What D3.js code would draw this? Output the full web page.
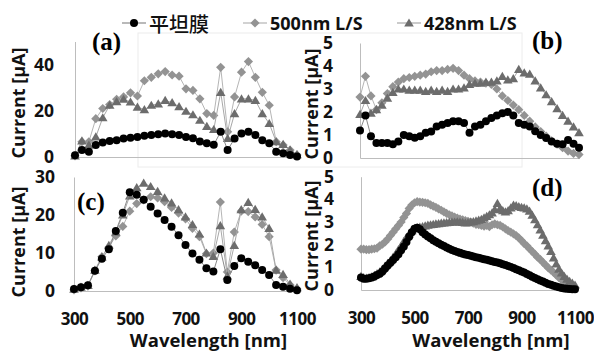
<!DOCTYPE html>
<html>
<head>
<meta charset="utf-8">
<script src="https://cdn.jsdelivr.net/npm/d3@7"></script>
<style>
  body { margin: 0; background: #fff; }
</style>
</head>
<body>
<div id="chart"></div>
<script>
// wavelength grids [nm]
const wl25 = [300,325,350,375,400,425,450,475,500,525,550,575,600,625,650,675,700,725,750,775,800,
              825,850,875,900,925,950,975,1000,1025,1050,1075,1100];
const wl20 = [300,320,340,360,380,400,420,440,460,480,500,520,540,560,580,600,620,640,660,680,700,
              720,740,760,780,800,820,840,860,880,900,920,940,960,980,1000,1020,1040,1060,1080,1100];
const wl10 = [300,310,320,330,340,350,360,370,380,390,400,410,420,430,440,450,460,470,480,490,
              500,510,520,530,540,550,560,570,580,590,600,610,620,630,640,650,660,670,680,690,
              700,710,720,730,740,750,760,770,780,790,800,810,820,830,840,850,860,870,880,890,
              900,910,920,930,940,950,960,970,980,990,1000,1010,1020,1030,1040,1050,1060,1070,1080,1090,1100];

const seriesNames = ["平坦膜", "500nm L/S", "428nm L/S"];
const xTicks = [300, 500, 700, 900, 1100];

// (a) current [uA]
const aFlat  = [0.8,3,2.3,5.2,6.3,6.9,7.3,8,8.3,8.7,9.2,9.5,9.8,10.2,9.8,9.5,8.7,8.1,6.7,6,
                5.3,10.9,3,8,10.2,10.9,9.5,7.3,5.9,2.3,1.6,0.9,0.2];
const a500   = [0.5,6.6,6.6,16.6,21,22.7,25,26,27.8,26.4,33,34.5,36,37,35.5,35,29.5,28.8,25.2,18.8,
                18,38.8,10.9,26,36.7,41.3,34.5,28,22.4,6.6,5.2,3,0.9];
const a428   = [0.5,7,5.2,8.7,17,22.4,24,25,23.8,21.6,20.5,22.4,23,24.5,23.5,21.8,19.8,18.3,15.9,13.3,
                11.9,28,8,18.8,25.2,25.2,24.5,18.8,14.5,6.6,5.5,3,1];

// (b)
const bFlat  = [1.2,1.85,0.95,0.65,0.65,0.65,0.6,0.72,1.0,0.95,0.88,0.95,1.1,1.15,1.37,1.45,1.52,1.6,1.6,1.52,
                1.1,1.37,1.45,1.6,1.74,1.85,1.95,2.0,1.85,1.52,1.45,1.37,1.16,1.0,0.87,0.72,0.62,0.6,0.78,0.62,0.45];
const b500   = [2.65,3.55,2.7,2.1,2.4,2.8,3.1,3.3,3.45,3.5,3.55,3.6,3.65,3.75,3.8,3.8,3.85,3.9,3.8,3.6,
                3.45,3.35,3.3,3.25,3.2,3.0,2.7,2.5,2.3,2.1,1.85,1.6,1.35,1.15,0.95,0.75,0.6,0.45,0.3,0.2,0.15];
const b428   = [1.9,2.5,1.95,2.1,2.3,2.6,2.85,3.0,3.0,2.95,2.95,2.95,2.9,2.95,2.9,2.95,2.9,3.0,3.0,3.05,
                3.2,3.25,3.25,3.3,3.3,3.35,3.55,3.4,3.45,3.85,3.7,3.65,3.35,3.05,2.75,2.45,2.15,1.85,1.6,1.35,1.1];

// (c)
const cFlat  = [0.5,1,1.5,5.3,8.5,11,15.8,20.6,26,25.3,24,22.2,20.4,18.7,16.9,14.7,12.1,9.9,8.2,6,
                5.1,11,2.9,6.6,8.6,7.7,6.8,5.5,4.2,1.6,1.1,0.6,0.2];
const c500   = [0.3,0.8,1.3,5.3,9,11.5,14.5,17,21,23,24,24.8,24.5,23.5,22,20.5,19,16.5,14.3,9.8,
                10,23.4,5,15.5,21,20.9,19.5,17.5,14.3,5.5,3.5,1.6,0.5];
const c428   = [0.5,1,1.5,5.5,9,12,15.5,20,25,27.2,28.4,27.5,26.2,24.5,23.2,21.4,19.5,17.5,15,10,
                9.1,17.2,4,12,21.4,23.3,21.5,19.5,16.5,5.5,4.4,1.8,0.9];

// (d)
const dFlat  = [0.55,0.5,0.5,0.52,0.55,0.6,0.66,0.72,0.82,0.95,
                1.08,1.2,1.32,1.45,1.58,1.75,1.92,2.12,2.35,2.55,
                2.7,2.75,2.68,2.55,2.45,2.36,2.28,2.2,2.13,2.06,
                2.0,1.94,1.88,1.82,1.77,1.72,1.68,1.64,1.6,1.57,
                1.54,1.51,1.48,1.45,1.42,1.39,1.36,1.33,1.3,1.27,
                1.24,1.21,1.18,1.14,1.1,1.06,1.02,0.97,0.92,0.87,
                0.82,0.77,0.71,0.65,0.59,0.53,0.47,0.42,0.37,0.32,
                0.27,0.23,0.19,0.15,0.12,0.09,0.07,0.05,0.04,0.03,0.03];
const d500   = [1.8,1.8,1.78,1.78,1.8,1.82,1.85,1.95,2.02,2.12,
                2.25,2.4,2.55,2.7,2.85,3.0,3.2,3.38,3.6,3.75,
                3.85,3.9,3.88,3.87,3.85,3.82,3.76,3.7,3.65,3.58,
                3.52,3.45,3.38,3.32,3.27,3.22,3.17,3.13,3.1,3.06,
                3.03,3.0,2.95,2.9,2.88,2.85,2.82,2.85,2.8,2.88,
                2.92,2.88,2.85,2.78,2.7,2.62,2.55,2.48,2.4,2.3,
                2.18,2.05,1.95,1.82,1.7,1.58,1.45,1.35,1.22,1.1,
                0.98,0.88,0.78,0.66,0.55,0.45,0.36,0.28,0.2,0.14,0.1];
const d428   = [0.6,0.55,0.52,0.55,0.58,0.65,0.72,0.8,0.92,1.05,
                1.18,1.3,1.45,1.6,1.78,1.95,2.15,2.32,2.48,2.62,
                2.72,2.75,2.78,2.8,2.83,2.86,2.88,2.9,2.92,2.93,
                2.95,2.96,2.97,2.98,3.0,3.0,3.01,3.0,2.98,2.96,
                2.97,3.0,3.02,3.05,3.08,3.12,3.18,3.25,3.32,3.4,
                3.55,3.82,3.6,3.5,3.45,3.5,3.62,3.75,3.72,3.68,
                3.65,3.62,3.58,3.48,3.3,3.1,2.88,2.65,2.42,2.18,
                1.95,1.7,1.42,1.15,0.92,0.75,0.6,0.48,0.38,0.3,0.22];

const FONT = "'Open Sans', Lato, sans-serif";
const CJK = "'Noto Sans CJK JP', sans-serif";
const SERIF = "'Liberation Serif', 'DejaVu Serif', serif";

// marker shapes
const shapes = {
    circle:   "M4,0A4,4 0 1,1 -4,0A4,4 0 1,1 4,0Z",
    diamond:  "M0,-4.6L4.6,0L0,4.6L-4.6,0Z",
    triangle: "M0,-4.6L4.8,3.6L-4.8,3.6Z"
};
// drawing order: diamonds, triangles, then black circles on top
const styles = [
    { shape: "diamond",  fill: "#939393", line: "#b5b5b5" },
    { shape: "triangle", fill: "#6c6c6c", line: "#a8a8a8" },
    { shape: "circle",   fill: "#000000", line: "#8a8a8a" }
];
const legendStyle = { "平坦膜": styles[2], "500nm L/S": styles[0], "428nm L/S": styles[1] };

const panels = [
    { id: "(a)", wl: wl25, series: [a500, a428, aFlat], left: 75,  right: 297, bottom: 157, top: 41.5,
      yMax: 50, yTicks: [0, 20, 40], pad: 21, showX: false, label: [92, 50],  title: [18, 103] },
    { id: "(b)", wl: wl20, series: [b500, b428, bFlat], left: 360, right: 579, bottom: 158, top: 43,
      yMax: 5, yTicks: [0, 1, 2, 3, 4, 5], pad: 27, showX: false, label: [532, 49], title: [311, 104] },
    { id: "(c)", wl: wl25, series: [c500, c428, cFlat], left: 74,  right: 297, bottom: 291, top: 177,
      yMax: 30, yTicks: [0, 10, 20, 30], pad: 19, showX: true, label: [77, 210], title: [18, 242] },
    { id: "(d)", wl: wl10, series: [d500, d428, dFlat], left: 361, right: 575, bottom: 290, top: 176.7,
      yMax: 5, yTicks: [0, 1, 2, 3, 4, 5], pad: 27, showX: true, label: [532, 196], title: [311, 236] }
];

const svg = d3.select("#chart").append("svg")
    .attr("width", 594)
    .attr("height", 352);
svg.append("rect").attr("width", 594).attr("height", 352).attr("fill", "#fff");

// faint frame left over from the overlapping chart areas
svg.append("rect")
    .attr("x", 138).attr("y", 33).attr("width", 384).attr("height", 134)
    .attr("fill", "none").attr("stroke", "#ececec").attr("stroke-width", 1);

panels.forEach(p => {
    const x = d3.scaleLinear().domain([300, 1100]).range([p.left, p.right]);
    const y = d3.scaleLinear().domain([0, p.yMax]).range([p.bottom, p.top]);

    // y axis
    const gy = svg.append("g")
        .attr("transform", `translate(${p.left},0)`)
        .call(d3.axisLeft(y).tickValues(p.yTicks).tickFormat(d3.format("d")).tickSize(0).tickPadding(p.pad));
    gy.select(".domain").attr("stroke", "#bdbdbd");
    gy.selectAll("text")
        .attr("font-family", FONT).attr("font-size", 17.5).attr("font-weight", "bold").attr("fill", "#111");

    // x axis
    const gx = svg.append("g")
        .attr("transform", `translate(0,${p.bottom})`)
        .call(d3.axisBottom(x).tickValues(p.showX ? xTicks : []).tickFormat(d3.format("d")).tickSize(0).tickPadding(22));
    gx.select(".domain").attr("stroke", "#bdbdbd");
    gx.selectAll("text")
        .attr("font-family", FONT).attr("font-size", 17).attr("font-weight", "bold")
        .attr("letter-spacing", -0.5).attr("fill", "#111");

    if (p.showX) {
        svg.append("text")
            .attr("x", (p.left + p.right) / 2 + 23)
            .attr("y", 347)
            .attr("text-anchor", "middle")
            .attr("font-family", FONT).attr("font-size", 18.5).attr("font-weight", "bold").attr("fill", "#111")
            .text("Wavelength [nm]");
    }

    // y title
    svg.append("text")
        .attr("transform", `translate(${p.title[0]},${p.title[1]}) rotate(-90)`)
        .attr("text-anchor", "middle")
        .attr("dominant-baseline", "central")
        .attr("font-family", FONT).attr("font-size", 18).attr("font-weight", "bold").attr("fill", "#111")
        .text("Current [μA]");

    // series
    p.series.forEach((vals, i) => {
        const st = styles[i];
        const pts = d3.zip(p.wl, vals);
        svg.append("path")
            .datum(pts)
            .attr("fill", "none")
            .attr("stroke", st.line)
            .attr("stroke-width", 1)
            .attr("d", d3.line().x(d => x(d[0])).y(d => y(d[1])));
        svg.append("g")
            .selectAll("path")
            .data(pts)
            .join("path")
            .attr("transform", d => `translate(${x(d[0])},${y(d[1])})`)
            .attr("d", shapes[st.shape])
            .attr("fill", st.fill);
    });

    // panel label
    svg.append("text")
        .attr("x", p.label[0]).attr("y", p.label[1])
        .attr("font-family", SERIF).attr("font-size", 25).attr("font-weight", "bold").attr("fill", "#000")
        .text(p.id);
});

// legend
const legendX = [122, 243, 397];
seriesNames.forEach((name, i) => {
    const st = legendStyle[name];
    const g = svg.append("g").attr("transform", `translate(${legendX[i]},23)`);
    g.append("line").attr("x1", 0).attr("x2", 24).attr("stroke", st.line).attr("stroke-width", 1.2);
    g.append("path").attr("transform", "translate(12,0)").attr("d", shapes[st.shape]).attr("fill", st.fill);
    g.append("text")
        .attr("x", 27).attr("y", 0)
        .attr("dominant-baseline", "central")
        .attr("font-family", i === 0 ? CJK : FONT)
        .attr("font-size", i === 0 ? 20 : 18)
        .attr("font-weight", i === 0 ? 500 : "bold")
        .attr("fill", "#111")
        .text(name);
});
</script>
</body>
</html>
